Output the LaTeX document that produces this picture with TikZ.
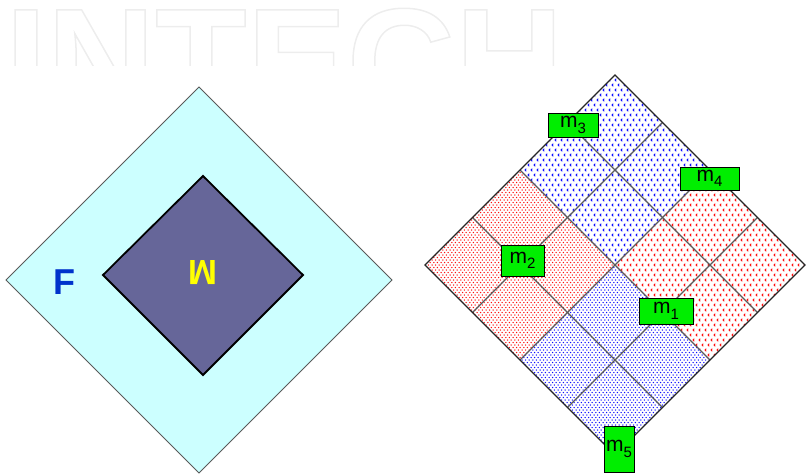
\documentclass[tikz,border=0pt]{standalone}
\usepackage{fontspec}
\setmainfont{Liberation Sans}
\usetikzlibrary{patterns}

\definecolor{cyanbg}{HTML}{CCFFFF}
\definecolor{wallc}{HTML}{666699}
\definecolor{Fblue}{HTML}{0033CC}
\definecolor{Wyel}{HTML}{FFFF00}
\definecolor{lblgreen}{HTML}{00EE00}
\definecolor{gridc}{HTML}{5A5A5A}
\definecolor{redp}{HTML}{FF1010}
\definecolor{bluep}{HTML}{1010FF}

\pgfdeclarepatternformonly{densedots}{\pgfqpoint{-1pt}{-1pt}}{\pgfqpoint{3pt}{3.5pt}}{\pgfqpoint{3.6pt}{5pt}}{%
  \pgfpathcircle{\pgfqpoint{0pt}{0pt}}{0.75pt}%
  \pgfpathcircle{\pgfqpoint{1.8pt}{2.5pt}}{0.75pt}%
  \pgfusepath{fill}}
\pgfdeclarepatternformonly{chevrons}{\pgfqpoint{-1pt}{-2pt}}{\pgfqpoint{5pt}{7pt}}{\pgfqpoint{6pt}{10pt}}{%
  \pgfsetlinewidth{0.9pt}%
  \pgfpathmoveto{\pgfqpoint{1.3pt}{1.2pt}}\pgfpathlineto{\pgfqpoint{0pt}{0pt}}\pgfpathlineto{\pgfqpoint{1.3pt}{-1.2pt}}%
  \pgfpathmoveto{\pgfqpoint{4.3pt}{6.2pt}}\pgfpathlineto{\pgfqpoint{3pt}{5pt}}\pgfpathlineto{\pgfqpoint{4.3pt}{3.8pt}}%
  \pgfusepath{stroke}}

\newcommand\gpt[2]{({615+47.5*((#1)-(#2))},{75+47.5*((#1)+(#2))})}
\newcommand\msub[2]{#1\raisebox{-5.5pt}{\fontsize{15}{15}\selectfont #2}}

\tikzset{
  lbl/.style={draw=black, line width=1pt, fill=lblgreen, inner sep=0pt,
    font=\fontsize{21}{21}\selectfont, text=black},
  gridline/.style={draw=gridc, line width=1.1pt},
}

\begin{document}
\begin{tikzpicture}[x=1pt,y=-1pt]
\useasboundingbox (0,0) rectangle (806,475);

% faint watermark
\begin{scope}
  \clip (0,0) rectangle (806,65);
  \node[anchor=base west, inner sep=0pt, font=\fontsize{150}{150}\selectfont\bfseries, text=black!7] (wm) at (5,113)
    {\special{pdf:literal direct 1 Tr 1.5 w}INTECH\special{pdf:literal direct 0 Tr}};
\end{scope}

% left diagram
\draw[draw=black!65, line width=0.8pt, fill=cyanbg]
  (199,87) -- (392,280) -- (199,473) -- (6,280) -- cycle;
\draw[draw=black, line width=1.8pt, fill=wallc]
  (203,176) -- (303,275) -- (203,375) -- (103,275) -- cycle;
\node[font=\fontsize{36}{36}\selectfont\bfseries, text=Fblue, inner sep=0pt] (F) at (64,282) {F};
\node[font=\fontsize{35}{35}\selectfont\bfseries, text=Wyel, inner sep=0pt] (W) at (203,273) {\rotatebox{180}{M}};

% right diagram: quadrants
\fill[pattern=chevrons, pattern color=bluep] \gpt{0}{0} -- \gpt{2}{0} -- \gpt{2}{2} -- \gpt{0}{2} -- cycle;
\fill[pattern=chevrons, pattern color=redp] \gpt{2}{0} -- \gpt{4}{0} -- \gpt{4}{2} -- \gpt{2}{2} -- cycle;
\fill[pattern=densedots, pattern color=redp] \gpt{0}{2} -- \gpt{2}{2} -- \gpt{2}{4} -- \gpt{0}{4} -- cycle;
\fill[pattern=densedots, pattern color=bluep] \gpt{2}{2} -- \gpt{4}{2} -- \gpt{4}{4} -- \gpt{2}{4} -- cycle;
\foreach \k in {1,2,3} {
  \draw[gridline] \gpt{\k}{0} -- \gpt{\k}{4};
  \draw[gridline] \gpt{0}{\k} -- \gpt{4}{\k};
}
\draw[draw=black!85, line width=1.3pt] \gpt{0}{0} -- \gpt{4}{0} -- \gpt{4}{4} -- \gpt{0}{4} -- cycle;

% labels
\node[lbl, minimum width=50pt, minimum height=24pt] (m3) at (573,125) {\msub{m}{3}};
\node[lbl, minimum width=59pt, minimum height=23pt] (m4) at (709.5,178.5) {\msub{m}{4}};
\node[lbl, minimum width=43pt, minimum height=31pt] (m2) at (522.5,260.5) {\msub{m}{2}};
\node[lbl, minimum width=54pt, minimum height=26pt] (m1) at (666,311) {\msub{m}{1}};
\node[lbl, minimum width=30pt, minimum height=46pt] (m5) at (619,449) {\msub{m}{5}};
\end{tikzpicture}
\end{document}
